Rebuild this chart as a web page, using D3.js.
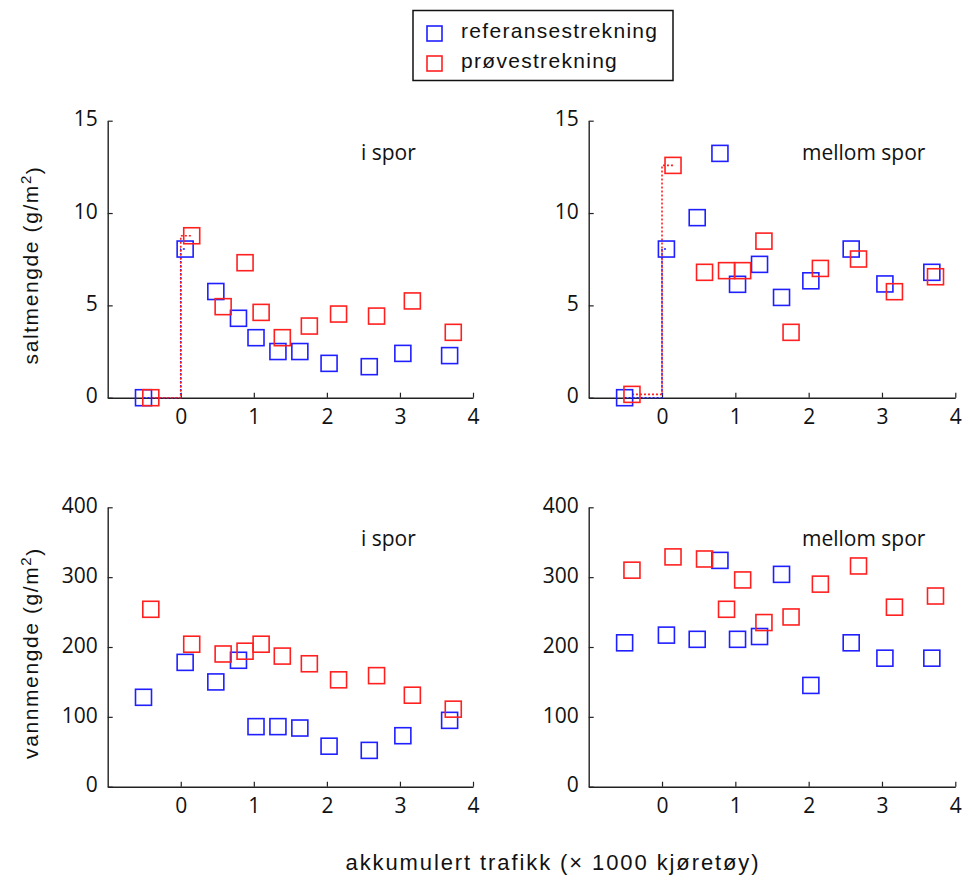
<!DOCTYPE html>
<html><head><meta charset="utf-8">
<script src="https://cdn.jsdelivr.net/npm/d3@7"></script>
<style>body{margin:0;background:#fff}</style>
</head><body>
<svg id="c" width="965" height="877"></svg>
<script>
// ---- data ----
const seriesNames = ["referansestrekning", "prøvestrekning"];
const seriesColors = ["#1f1fff", "#ff2020"];
const xRef = [-0.51, 0.06, 0.48, 0.79, 1.03, 1.33, 1.63, 2.03, 2.58, 3.04, 3.68];
const xTest = [-0.41, 0.15, 0.58, 0.88, 1.10, 1.39, 1.76, 2.16, 2.68, 3.17, 3.73];
const saltSporRef = [0, 8.05, 5.75, 4.3, 3.25, 2.5, 2.5, 1.86, 1.68, 2.4, 2.28];
const saltSporTest = [0, 8.77, 4.93, 7.31, 4.62, 3.25, 3.88, 4.53, 4.42, 5.24, 3.54];
const saltMellomRef = [0, 8.05, 9.75, 13.23, 6.14, 7.22, 5.43, 6.33, 8.05, 6.16, 6.79];
const saltMellomTest = [0.18, 12.58, 6.79, 6.88, 6.88, 8.48, 3.54, 7.0, 7.51, 5.74, 6.55];
const vannSporRef = [128, 178, 150, 181, 86, 86, 84, 58, 52, 73, 95];
const vannSporTest = [254, 204, 190, 194, 204, 187, 176, 153, 159, 131, 111];
const vannMellomRef = [206, 217, 211, 324, 211, 215, 304, 145, 206, 184, 184];
const vannMellomTest = [310, 329, 326, 254, 296, 235, 243, 290, 316, 257, 273];
const xTicks = [0, 1, 2, 3, 4];
const saltTicks = [0, 5, 10, 15];
const vannTicks = [0, 100, 200, 300, 400];

const svg = d3.select("#c");
const tickFont = "'Open Sans', Lato, sans-serif";
const labelFont = "'Liberation Sans', Arial, sans-serif";

const cols = [[107.7, 473], [588.7, 955.3]];
const rows = [[397.7, 120.7], [786.7, 507.3]];

const panels = [
  {c:0, r:0, ref:saltSporRef, test:saltSporTest, dom:[0,15], ticks:saltTicks, label:"i spor", step:true},
  {c:1, r:0, ref:saltMellomRef, test:saltMellomTest, dom:[0,15], ticks:saltTicks, label:"mellom spor", step:true},
  {c:0, r:1, ref:vannSporRef, test:vannSporTest, dom:[0,400], ticks:vannTicks, label:"i spor", step:false},
  {c:1, r:1, ref:vannMellomRef, test:vannMellomTest, dom:[0,400], ticks:vannTicks, label:"mellom spor", step:false}
];

const M = 16; // marker side
panels.forEach(p => {
  const x = d3.scaleLinear().domain([-1, 4]).range(cols[p.c]);
  const y = d3.scaleLinear().domain(p.dom).range(rows[p.r]);
  const g = svg.append("g");

  const xa = g.append("g").attr("transform", `translate(0,${y(0)})`)
    .call(d3.axisBottom(x).tickValues(xTicks).tickFormat(d3.format("d")).tickSizeInner(-5).tickSizeOuter(0).tickPadding(11));
  const ya = g.append("g").attr("transform", `translate(${x(-1)},0)`)
    .call(d3.axisLeft(y).tickValues(p.ticks).tickFormat(d3.format("d")).tickSizeInner(-5).tickSizeOuter(0).tickPadding(10));
  [xa, ya].forEach(a => {
    a.select(".domain").attr("stroke", "#222").attr("stroke-width", 1.4);
    a.selectAll(".tick line").attr("stroke", "#222").attr("stroke-width", 1.2);
    a.selectAll(".tick text").attr("fill", "#111").style("font-family", tickFont).style("font-size", "21px");
  });
  ya.selectAll(".tick text").attr("dy", "0.25em");

  const sets = [{xs:xRef, ys:p.ref, col:seriesColors[0]}, {xs:xTest, ys:p.test, col:seriesColors[1]}];
  if (p.step) {
    sets.forEach(s => {
      const pts = [[s.xs[0], s.ys[0]], [0, s.ys[0]], [0, s.ys[1]], [s.xs[1], s.ys[1]]];
      g.append("path").attr("d", d3.line().x(d => x(d[0])).y(d => y(d[1]))(pts))
        .attr("fill", "none").attr("stroke", s.col).attr("stroke-width", 1.6).attr("stroke-dasharray", "2,2");
    });
  }
  sets.forEach(s => {
    g.append("g").selectAll("rect").data(s.xs.map((v, i) => [v, s.ys[i]])).join("rect")
      .attr("x", d => x(d[0]) - M/2).attr("y", d => y(d[1]) - M/2)
      .attr("width", M).attr("height", M)
      .attr("fill", "none").attr("stroke", s.col).attr("stroke-width", 1.6);
  });

  g.append("text").attr("x", p.c === 0 ? 361 : 802).attr("y", y.range()[1] + 39)
    .style("font-family", tickFont).style("font-size", "21px").attr("fill", "#111").text(p.label);
});

// y axis titles
function yTitle(cy, main) {
  const t = svg.append("text").attr("transform", `translate(38,${cy}) rotate(-90)`)
    .attr("text-anchor", "middle").style("font-family", labelFont).style("font-size", "21px")
    .style("letter-spacing", "1.6px").attr("fill", "#111");
  t.append("tspan").text(main + " (g/m");
  t.append("tspan").attr("dy", "-0.45em").style("font-size", "15px").text("2");
  t.append("tspan").attr("dy", "0.45em").text(")");
}
yTitle(265, "saltmengde");
yTitle(653, "vannmengde");

svg.append("text").attr("x", 553).attr("y", 870).attr("text-anchor", "middle")
  .style("font-family", labelFont).style("font-size", "22px").style("letter-spacing", "1.9px").attr("fill", "#111")
  .text("akkumulert trafikk (× 1000 kjøretøy)");

// legend
const lg = svg.append("g");
lg.append("rect").attr("x", 413).attr("y", 10.5).attr("width", 260).attr("height", 70)
  .attr("fill", "#fff").attr("stroke", "#111").attr("stroke-width", 1.5);
seriesNames.forEach((n, i) => {
  const cy = 34 + i * 30;
  lg.append("rect").attr("x", 427).attr("y", cy - 8).attr("width", 15).attr("height", 15)
    .attr("fill", "none").attr("stroke", seriesColors[i]).attr("stroke-width", 1.6);
  lg.append("text").attr("x", 461).attr("y", cy + 4).style("font-family", labelFont).style("font-size", "21px")
    .style("letter-spacing", "1.3px").attr("fill", "#111").text(n);
});
</script>
</body></html>
